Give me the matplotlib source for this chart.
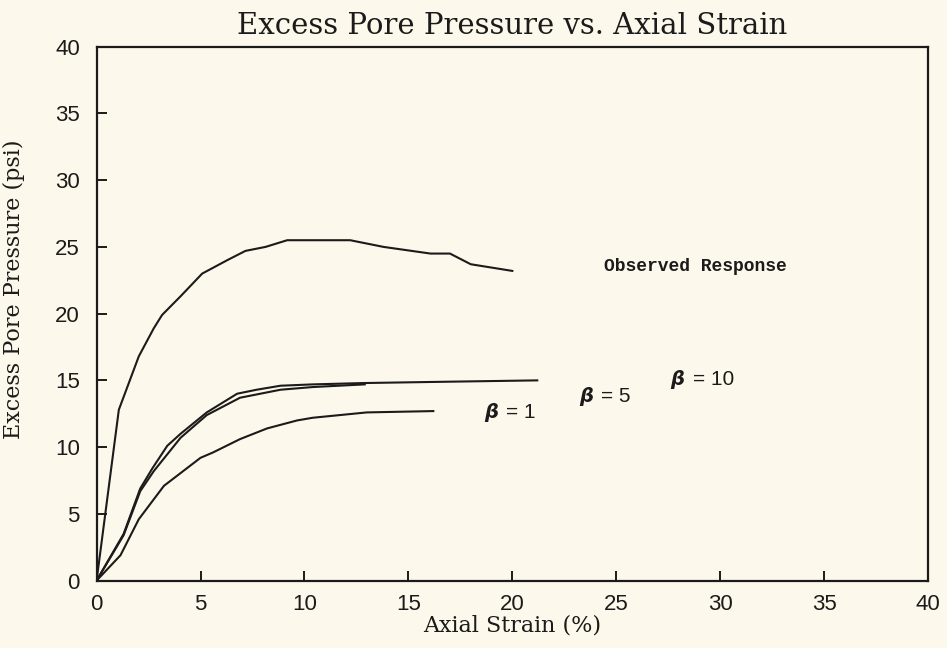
import numpy as np
import matplotlib
matplotlib.use("Agg")
import matplotlib.pyplot as plt

obs_x = [0.0, 1.07, 2.03, 2.75, 3.15, 4.04, 5.08, 6.28, 7.16, 8.13, 9.17, 12.2, 13.8, 16.06, 17.0, 18.0, 20.0]
obs_y = [0.0, 12.8, 16.8, 18.9, 19.9, 21.3, 23.0, 24.0, 24.7, 25.0, 25.5, 25.5, 25.0, 24.5, 24.5, 23.7, 23.2]

# beta = 10
b10_x = [0.0, 1.3, 2.1, 2.68, 3.4, 4.04, 5.3, 6.76, 7.7, 8.85, 10.4, 12.85, 16.9, 21.2]
b10_y = [0.0, 3.5, 6.9, 8.4, 10.1, 11.0, 12.6, 14.0, 14.3, 14.6, 14.7, 14.8, 14.9, 15.0]

# beta = 5
b5_x = [0.0, 1.3, 2.1, 2.75, 4.04, 5.3, 6.9, 8.85, 10.4, 12.9]
b5_y = [0.0, 3.4, 6.7, 8.2, 10.7, 12.4, 13.7, 14.3, 14.5, 14.7]

# beta = 1
b1_x = [0.0, 1.15, 2.03, 3.24, 5.0, 5.6, 6.9, 8.2, 9.65, 10.4, 13.0, 16.2]
b1_y = [0.0, 1.9, 4.6, 7.1, 9.2, 9.6, 10.6, 11.4, 12.0, 12.2, 12.6, 12.7]

obs_label = "Observed Response"
obs_label_xy = (24.4, 23.5)
beta_vals = ["1", "5", "10"]
beta_x = [18.65, 23.2, 27.6]
beta_y = [12.6, 13.8, 15.1]

xticks = [0, 5, 10, 15, 20, 25, 30, 35, 40]
yticks = [0, 5, 10, 15, 20, 25, 30, 35, 40]

bg = "#fcf9ec"
ink = "#1c1a1a"

fig = plt.figure(figsize=(9.47, 6.48), dpi=100, facecolor=bg)
ax = fig.add_axes([0.102, 0.104, 0.878, 0.824], facecolor=bg)

for xs, ys in [(obs_x, obs_y), (b10_x, b10_y), (b5_x, b5_y), (b1_x, b1_y)]:
    ax.plot(xs, ys, color=ink, lw=1.5)

ax.set_xlim(0, 40); ax.set_ylim(0, 40)
ax.set_xticks(xticks); ax.set_yticks(yticks)
ax.tick_params(direction="in", length=7, width=1.4, colors=ink,
               labelsize=16, top=False, right=False)
ax.tick_params(axis="x", pad=10)
ax.tick_params(axis="y", pad=12)
for t in ax.get_xticklabels() + ax.get_yticklabels():
    t.set_family("Liberation Sans")
for s in ax.spines.values():
    s.set_color(ink); s.set_linewidth(1.6)

ax.set_title("Excess Pore Pressure vs. Axial Strain", family="DejaVu Serif",
             fontsize=21, color=ink, pad=9)
ax.set_xlabel("Axial Strain (%)", family="DejaVu Serif", fontsize=16, color=ink, labelpad=-1)
ax.set_ylabel("Excess Pore Pressure (psi)", family="DejaVu Serif", fontsize=16, color=ink)
ax.yaxis.set_label_coords(-0.086, 0.545)

ax.text(obs_label_xy[0], obs_label_xy[1], obs_label, family="Liberation Mono",
        fontweight="bold", fontsize=13, color=ink, va="center")
for v, bx, by in zip(beta_vals, beta_x, beta_y):
    ax.text(bx, by, "β", family="DejaVu Sans", fontweight="bold", fontstyle="italic",
            fontsize=14, color=ink, va="center")
    ax.annotate("= " + v, (bx, by), xytext=(16, 0), textcoords="offset points",
                family="Liberation Sans", fontsize=15, color=ink, va="center")

fig.savefig("out.png", dpi=100, facecolor=bg)
